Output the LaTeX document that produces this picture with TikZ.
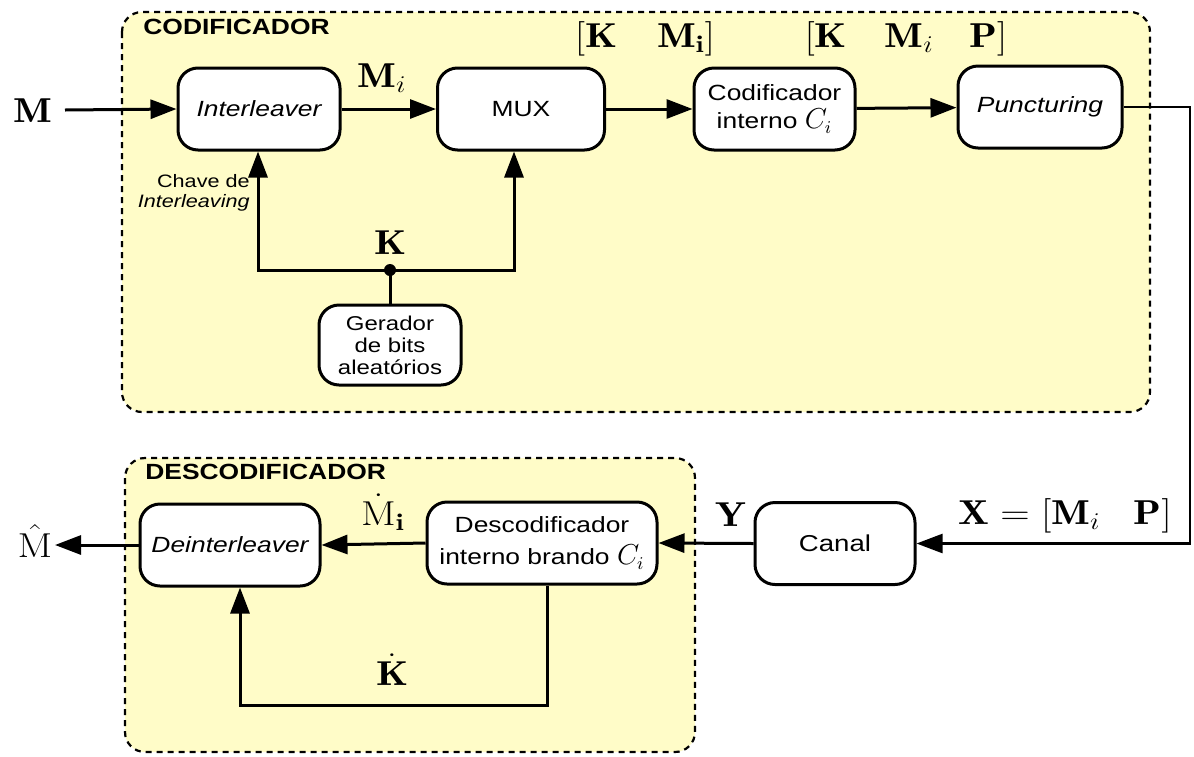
\documentclass[tikz,border=0pt]{standalone}
\usepackage{graphicx}
\usepackage{fontspec}
\setsansfont{Liberation Sans}[FakeStretch=1.2]
\usetikzlibrary{arrows.meta}
\definecolor{regfill}{RGB}{255,252,200}
\newcommand{\wm}[1]{\scalebox{1.18}[1]{$#1$}}
\newcommand{\bigci}{{\fontsize{13.5}{13}\selectfont $C_i$}}
\begin{document}
\begin{tikzpicture}[x=0.5pt,y=-0.5pt,
  blk/.style={draw, line width=1.5pt, rounded corners=10pt, fill=white,
    font=\sffamily\fontsize{11}{13}\selectfont, align=center, inner sep=0pt,
    minimum height=41pt},
  region/.style={draw, line width=1.1pt, dash pattern=on 3pt off 2.5pt,
    rounded corners=10pt, fill=regfill},
  conn/.style={line width=1.5pt, -{Triangle[length=13pt,width=9.5pt]}},
  wire/.style={line width=1.5pt},
  mlab/.style={font=\LARGE, inner sep=0pt},
  ttl/.style={font=\sffamily\bfseries\fontsize{11}{13}\selectfont, inner sep=0pt, anchor=west}]
\useasboundingbox (0,0) rectangle (1194,756);

% regions
\draw[region] (122,12) rectangle (1150,412);
\draw[region] (125,458) rectangle (695,752);
\node[ttl] (tcod) at (143,27) {CODIFICADOR};
\node[ttl] (tdec) at (145,472) {DESCODIFICADOR};

% encoder blocks
\node[blk, minimum width=81pt] (il) at (259,109) {\itshape Interleaver};
\node[blk, minimum width=83.5pt] (mux) at (521,109) {MUX};
\node[blk, minimum width=80.5pt] (ci) at (774.5,109) {Codificador\\[1pt]interno \bigci};
\node[blk, minimum width=82pt] (pun) at (1040,107) {\itshape Puncturing};
\node[blk, minimum width=71pt, minimum height=40pt, font=\sffamily\fontsize{10}{11}\selectfont] (ger) at (390,345) {Gerador\\de bits\\aleatórios};

% decoder blocks
\node[blk, minimum width=80pt, font=\sffamily\fontsize{11.5}{13}\selectfont] (can) at (835,543.5) {Canal};
\node[blk, minimum width=115pt] (dec) at (542,543) {Descodificador\\[3pt]interno brando \bigci};
\node[blk, minimum width=90pt] (din) at (230,545) {\itshape Deinterleaver};

% labels
\node[mlab] (lM) at (33,111) {\wm{\mathbf{M}}};
\node[mlab] (lMi) at (382,78) {\wm{\mathbf{M}_i}};
\node[mlab] (lKM) at (645,39) {\wm{[\mathbf{K}\hspace{17pt}\mathbf{M_i}]}};
\node[mlab] (lKMP) at (906,39) {\wm{[\mathbf{K}\hspace{16pt}\mathbf{M}_i\hspace{15pt}\mathbf{P}]}};
\node[mlab] (lK) at (390,243) {\wm{\mathbf{K}}};
\node[font=\sffamily\fontsize{9}{10}\selectfont, align=right, anchor=east, inner sep=0pt] (lch) at (250,193) {Chave de\\\itshape Interleaving};
\node[mlab] (lX) at (1065,516) {\wm{\mathbf{X}=[\mathbf{M}_i\hspace{14pt}\mathbf{P}]}};
\node[mlab] (lY) at (731,515) {\wm{\mathbf{Y}}};
\node[mlab] (lMd) at (383,512) {\wm{\dot{\mathrm{M}}_{\mathbf{i}}}};
\node[mlab] (lKd) at (392,670) {\wm{\dot{\mathbf{K}}}};
\node[mlab] (lMh) at (35,541) {\wm{\hat{\mathrm{M}}}};

% encoder connections
\coordinate (min) at (65,110);
\draw[conn] (min) -- (il.west);
\draw[conn] (il) -- (mux);
\draw[conn] (mux) -- (ci);
\draw[conn] (ci) -- (pun);
\coordinate (jn) at (390,270);
\draw[wire] (ger.north) -- (jn);
\draw[conn] (jn) -| ([xshift=-0.5pt]il.south);
\draw[conn] (jn) -| ([xshift=-3.5pt]mux.south);
\fill (jn) circle (3pt);

% channel
\coordinate (rt) at (1190,110);
\draw[conn, line width=1.2pt] (pun.east) -- (pun.east -| rt) -- (rt |- can.east) -- (can.east);
\draw[conn] (can.west) -- (dec.east);
\draw[conn] (dec.west) -- (din.east);
\coordinate (mout) at (55,545);
\draw[conn] (din.west) -- (mout);
\coordinate (kb) at (547,705);
\draw[conn] ([xshift=2.5pt]dec.south) -- (kb) -| ([xshift=5pt]din.south);
\end{tikzpicture}
\end{document}
